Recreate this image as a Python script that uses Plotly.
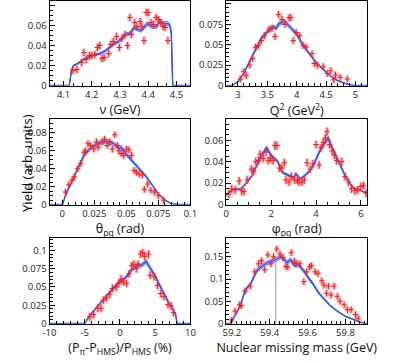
import plotly.graph_objects as go
from plotly.subplots import make_subplots

# --- nu (GeV) ---
nu_x = [4.133, 4.147, 4.164, 4.172, 4.180, 4.192, 4.200, 4.211, 4.220, 4.228, 4.236, 4.244,
        4.260, 4.267, 4.276, 4.288, 4.298, 4.307, 4.318, 4.327, 4.335, 4.340, 4.352, 4.360,
        4.372, 4.378, 4.385, 4.393, 4.400, 4.410, 4.420, 4.428, 4.436, 4.445, 4.453, 4.460, 4.470]
nu_y = [0.015, 0.016, 0.023, 0.033, 0.026, 0.030, 0.030, 0.031, 0.038, 0.040, 0.027, 0.028,
        0.032, 0.041, 0.044, 0.049, 0.038, 0.047, 0.051, 0.040, 0.068, 0.051, 0.063, 0.059,
        0.064, 0.059, 0.045, 0.073, 0.073, 0.063, 0.061, 0.068, 0.066, 0.063, 0.059, 0.058, 0.045]
nu_mx = [4.05, 4.12, 4.128, 4.135, 4.15, 4.17, 4.20, 4.23, 4.25, 4.27, 4.30, 4.32, 4.335,
         4.35, 4.365, 4.375, 4.385, 4.397, 4.413, 4.43, 4.44, 4.453, 4.47, 4.477, 4.482, 4.487, 4.55]
nu_my = [0, 0, 0.015, 0.020, 0.022, 0.026, 0.030, 0.032, 0.035, 0.040, 0.045, 0.051, 0.052,
         0.058, 0.056, 0.055, 0.058, 0.062, 0.059, 0.059, 0.064, 0.062, 0.062, 0.060, 0.053, 0, 0]

# --- Q2 (GeV2) ---
q2_x = [3.04, 3.10, 3.14, 3.20, 3.25, 3.30, 3.35, 3.40, 3.45, 3.53, 3.58, 3.63, 3.69, 3.75,
        3.80, 3.87, 3.90, 3.94, 3.99, 4.05, 4.11, 4.16, 4.26, 4.30, 4.35, 4.45, 4.52, 4.58,
        4.63, 4.66, 4.74, 4.86]
q2_y = [0.008, 0.017, 0.012, 0.025, 0.033, 0.047, 0.049, 0.055, 0.061, 0.069, 0.070, 0.060,
        0.087, 0.081, 0.075, 0.083, 0.083, 0.055, 0.065, 0.061, 0.049, 0.047, 0.039, 0.027,
        0.025, 0.023, 0.015, 0.018, 0.007, 0.013, 0.010, 0.008]
q2_mx = [2.8, 2.9, 3.0, 3.1, 3.2, 3.3, 3.4, 3.5, 3.6, 3.65, 3.7, 3.8, 3.85, 3.9, 4.0, 4.1,
         4.2, 4.3, 4.4, 4.5, 4.6, 4.7, 4.8, 4.9, 5.0, 5.2]
q2_my = [0, 0, 0.005, 0.015, 0.030, 0.045, 0.058, 0.066, 0.072, 0.070, 0.076, 0.078, 0.074,
         0.070, 0.063, 0.050, 0.040, 0.031, 0.023, 0.016, 0.010, 0.006, 0.003, 0.001, 0, 0]

# --- theta_pq (rad) ---
th_x = [0.0025, 0.0050, 0.0076, 0.0094, 0.0120, 0.0144, 0.0170, 0.0180, 0.0200, 0.0220,
        0.0246, 0.0266, 0.0280, 0.0310, 0.0330, 0.0350, 0.0370, 0.0390, 0.0410, 0.0430,
        0.0440, 0.0460, 0.0480, 0.0500, 0.0520, 0.0540, 0.0560, 0.0580, 0.0600, 0.0625,
        0.0640, 0.0666, 0.0690, 0.0720, 0.0750, 0.0790]
th_y = [0.014, 0.022, 0.027, 0.031, 0.040, 0.046, 0.058, 0.060, 0.068, 0.066, 0.062, 0.070,
        0.064, 0.070, 0.073, 0.066, 0.070, 0.062, 0.078, 0.066, 0.060, 0.057, 0.055, 0.062,
        0.061, 0.055, 0.038, 0.036, 0.034, 0.033, 0.017, 0.023, 0.016, 0.014, 0.010, 0.005]
th_mx = [-0.01, 0, 0.003, 0.007, 0.012, 0.017, 0.022, 0.026, 0.030, 0.034, 0.040, 0.044,
         0.046, 0.050, 0.055, 0.060, 0.065, 0.070, 0.075, 0.080, 0.085, 0.090, 0.10]
th_my = [0, 0, 0.012, 0.025, 0.040, 0.055, 0.063, 0.067, 0.069, 0.071, 0.068, 0.063,
         0.064, 0.056, 0.048, 0.040, 0.032, 0.022, 0.012, 0.005, 0.001, 0, 0]

# --- phi_pq (rad) ---
ph_x = [0.115, 0.245, 0.40, 0.576, 0.69, 0.79, 0.935, 1.12, 1.22, 1.32, 1.44, 1.51, 1.65,
        1.77, 1.87, 1.97, 2.09, 2.16, 2.26, 2.37, 2.47, 2.59, 2.66, 2.80, 2.90, 3.05, 3.17,
        3.24, 3.38, 3.48, 3.60, 3.74, 3.86, 4.00, 4.14, 4.22, 4.32, 4.42, 4.49, 4.60, 4.72,
        4.82, 4.92, 5.15, 5.29, 5.44, 5.58, 5.73, 5.86, 6.00, 6.12, 6.23]
ph_y = [0.0097, 0.0146, 0.0137, 0.022, 0.0128, 0.012, 0.023, 0.033, 0.031, 0.040, 0.041,
        0.047, 0.043, 0.049, 0.041, 0.043, 0.041, 0.055, 0.055, 0.034, 0.034, 0.039, 0.023,
        0.021, 0.026, 0.023, 0.023, 0.021, 0.021, 0.023, 0.039, 0.033, 0.038, 0.056, 0.037,
        0.053, 0.058, 0.062, 0.068, 0.056, 0.050, 0.046, 0.041, 0.040, 0.026, 0.021, 0.0146,
        0.0128, 0.0137, 0.0168, 0.0177, 0.0107]
ph_mx = [0, 0.29, 0.65, 0.94, 1.15, 1.37, 1.58, 1.80, 2.00, 2.15, 2.30, 2.50, 2.80, 3.00,
         3.10, 3.30, 3.50, 3.70, 3.90, 4.10, 4.30, 4.55, 4.70, 4.90, 5.10, 5.30, 5.50, 5.70,
         5.90, 6.10, 6.283]
ph_my = [0.009, 0.014, 0.0146, 0.021, 0.027, 0.037, 0.046, 0.053, 0.046, 0.043, 0.040,
         0.030, 0.027, 0.025, 0.029, 0.024, 0.027, 0.031, 0.037, 0.047, 0.055, 0.062, 0.054,
         0.045, 0.036, 0.027, 0.020, 0.015, 0.014, 0.012, 0.011]

# --- (P_pi - P_HMS)/P_HMS (%) ---
dp_x = [-4.28, -3.73, -3.14, -2.68, -2.36, -1.90, -1.44, -1.08, -0.53, -0.16, 0.16, 0.48,
        0.94, 1.30, 1.67, 1.99, 2.31, 2.58, 2.90, 3.23, 3.50, 4.05, 4.28, 4.87, 5.33, 5.79,
        6.25, 6.80, 7.25, 7.60]
dp_y = [0.009, 0.0124, 0.021, 0.021, 0.032, 0.035, 0.040, 0.048, 0.050, 0.055, 0.061, 0.057,
        0.055, 0.068, 0.079, 0.081, 0.075, 0.081, 0.095, 0.097, 0.092, 0.095, 0.066, 0.064,
        0.052, 0.041, 0.037, 0.026, 0.024, 0.015]
dp_mx = [-10, -5, -4.5, -4, -3.5, -3, -2.5, -2, -1.5, -1, -0.5, 0, 0.5, 1, 1.5, 2, 2.5, 3,
         3.7, 4.2, 5, 5.5, 6, 6.5, 7, 7.5, 7.9, 8.1, 10]
dp_my = [0, 0, 0.008, 0.015, 0.020, 0.026, 0.032, 0.037, 0.042, 0.048, 0.053, 0.058, 0.060,
         0.065, 0.072, 0.076, 0.080, 0.079, 0.085, 0.077, 0.065, 0.055, 0.045, 0.035, 0.027,
         0.020, 0.012, 0, 0]

# --- Nuclear missing mass (GeV) ---
mm_x = [59.200, 59.217, 59.240, 59.250, 59.270, 59.297, 59.320, 59.340, 59.356, 59.373,
        59.390, 59.407, 59.420, 59.437, 59.454, 59.470, 59.485, 59.495, 59.514, 59.530,
        59.540, 59.560, 59.580, 59.595, 59.610, 59.620, 59.640, 59.655, 59.675, 59.686,
        59.700, 59.710, 59.724, 59.740, 59.757, 59.771, 59.793, 59.810, 59.830, 59.853, 59.868]
mm_y = [0.008, 0.028, 0.042, 0.040, 0.073, 0.084, 0.116, 0.134, 0.141, 0.121, 0.154, 0.134,
        0.150, 0.167, 0.156, 0.148, 0.128, 0.127, 0.159, 0.140, 0.134, 0.134, 0.094, 0.116,
        0.127, 0.130, 0.116, 0.112, 0.096, 0.086, 0.068, 0.084, 0.064, 0.084, 0.061, 0.050,
        0.042, 0.031, 0.031, 0.020, 0.011]
mm_mx = [59.17, 59.19, 59.22, 59.245, 59.27, 59.30, 59.33, 59.35, 59.38, 59.42, 59.44,
         59.46, 59.49, 59.51, 59.53, 59.55, 59.58, 59.60, 59.63, 59.66, 59.69, 59.72, 59.76,
         59.80, 59.85, 59.88, 59.90, 59.915]
mm_my = [0, 0, 0.020, 0.040, 0.075, 0.090, 0.117, 0.126, 0.135, 0.141, 0.145, 0.151, 0.137,
         0.143, 0.130, 0.133, 0.118, 0.105, 0.088, 0.068, 0.055, 0.040, 0.027, 0.016, 0.008,
         0.003, 0, 0]
mm_line = 59.432

RED = "#ff1a1a"
PINK = "rgba(255,60,60,0.35)"
BLUE = "#3355ff"

panels = [
    dict(x=nu_x, y=nu_y, err=0.0035, mx=nu_mx, my=nu_my, xr=[4.05, 4.55], yr=[0, 0.0845],
         xt=[4.1, 4.2, 4.3, 4.4, 4.5], yt=[0, 0.02, 0.04, 0.06, 0.08], xm=0.1 / 3, ym=0.005,
         title="\u03bd (GeV)"),
    dict(x=q2_x, y=q2_y, err=0.004, mx=q2_mx, my=q2_my, xr=[2.8, 5.2], yr=[0, 0.1035],
         xt=[3, 3.5, 4, 4.5, 5], yt=[0, 0.025, 0.05, 0.075, 0.1], xm=0.1, ym=0.005,
         title="Q<sup>2</sup> (GeV<sup>2</sup>)"),
    dict(x=th_x, y=th_y, err=0.0035, mx=th_mx, my=th_my, xr=[-0.01, 0.1], yr=[0, 0.0956],
         xt=[0, 0.025, 0.05, 0.075, 0.1], yt=[0, 0.02, 0.04, 0.06, 0.08], xm=0.005, ym=0.005,
         title="\u03b8<sub>pq</sub> (rad)"),
    dict(x=ph_x, y=ph_y, err=0.0035, mx=ph_mx, my=ph_my, xr=[0, 6.283], yr=[0, 0.0798],
         xt=[0, 2, 4, 6], yt=[0, 0.02, 0.04, 0.06], xm=0.5, ym=0.005,
         title="\u03c6<sub>pq</sub> (rad)"),
    dict(x=dp_x, y=dp_y, err=0.005, mx=dp_mx, my=dp_my, xr=[-10, 10], yr=[0, 0.117],
         xt=[-10, -5, 0, 5, 10], yt=[0, 0.025, 0.05, 0.075, 0.1], xm=1, ym=0.005,
         title="(P<sub>\u03c0</sub>-P<sub>HMS</sub>)/P<sub>HMS</sub> (%)"),
    dict(x=mm_x, y=mm_y, err=0.007, mx=mm_mx, my=mm_my, xr=[59.17, 59.915], yr=[0, 0.192],
         xt=[59.2, 59.4, 59.6, 59.8], yt=[0, 0.05, 0.1, 0.15], xm=0.025, ym=0.01,
         title="Nuclear missing mass (GeV)"),
]

xdom = [[0.1076, 0.4645], [0.555, 0.912]]
ydom = [[0.7603, 0.9972], [0.427, 0.6667], [0.0937, 0.3333]]

fig = make_subplots(rows=3, cols=2)
FONT = "Open Sans"

for i, p in enumerate(panels):
    r, c = i // 2 + 1, i % 2 + 1
    lo = [v * 0.97 for v in p["my"]]
    hi = [v * 1.03 for v in p["my"]]
    fig.add_trace(go.Scatter(x=p["mx"], y=lo, mode="lines", line=dict(color=BLUE, width=0.8),
                             showlegend=False, hoverinfo="skip"), row=r, col=c)
    fig.add_trace(go.Scatter(x=p["mx"], y=hi, mode="lines", line=dict(color=BLUE, width=0.8),
                             fill="tonexty", fillcolor="rgba(120,150,255,0.35)",
                             showlegend=False, hoverinfo="skip"), row=r, col=c)
    fig.add_trace(go.Scatter(x=p["mx"], y=p["my"], mode="lines", line=dict(color=BLUE, width=1.4),
                             showlegend=False), row=r, col=c)
    # systematic boxes
    fig.add_trace(go.Scatter(x=p["x"], y=p["y"], mode="markers", marker=dict(size=0.1, color=PINK),
                             error_y=dict(type="constant", value=p["err"] * 1.15, color=PINK,
                                          thickness=3.5, width=0),
                             showlegend=False), row=r, col=c)
    # statistical error crosses
    fig.add_trace(go.Scatter(x=p["x"], y=p["y"], mode="markers",
                             marker=dict(symbol="line-ew", size=4, line=dict(color=RED, width=1)),
                             error_y=dict(type="constant", value=p["err"], color=RED,
                                          thickness=1, width=0),
                             showlegend=False), row=r, col=c)

    ticktext = [str(v) for v in p["xt"]]
    fig.update_xaxes(range=p["xr"], domain=xdom[c - 1], tickvals=p["xt"], ticktext=ticktext,
                     ticks="inside", ticklen=5, tickcolor="black", showline=True, mirror=True,
                     linecolor="black", linewidth=1, showgrid=False, zeroline=False,
                     minor=dict(ticks="inside", ticklen=3, dtick=p["xm"], tick0=p["xt"][0],
                                tickcolor="black", showgrid=False),
                     tickfont=dict(family=FONT, size=9.5, color="#222"),
                     title=dict(text=p["title"], font=dict(family=FONT, size=12.5, color="#111"),
                                standoff=2),
                     row=r, col=c)
    fig.update_yaxes(range=p["yr"], domain=ydom[r - 1], tickvals=p["yt"],
                     ticks="inside", ticklen=5, tickcolor="black", showline=True, mirror=True,
                     linecolor="black", linewidth=1, showgrid=False, zeroline=False,
                     minor=dict(ticks="inside", ticklen=3, dtick=p["ym"], tick0=0,
                                tickcolor="black", showgrid=False),
                     tickfont=dict(family=FONT, size=9.5, color="#222"),
                     row=r, col=c)

# vertical marker line in the missing-mass panel
fig.add_shape(type="line", x0=mm_line, x1=mm_line, y0=0, y1=0.15, xref="x6", yref="y6",
              line=dict(color="#999", width=1))

fig.add_annotation(text="Yield (arb. units)", x=0.024, y=0.545, xref="paper", yref="paper",
                   textangle=-90, showarrow=False,
                   font=dict(family=FONT, size=13, color="#000"))

fig.update_layout(width=409, height=363, margin=dict(l=0, r=0, t=0, b=0),
                  paper_bgcolor="white", plot_bgcolor="white",
                  font=dict(family=FONT))

fig.write_html("out.html", config={"displayModeBar": False},
               post_script="document.body.style.margin='0';")
